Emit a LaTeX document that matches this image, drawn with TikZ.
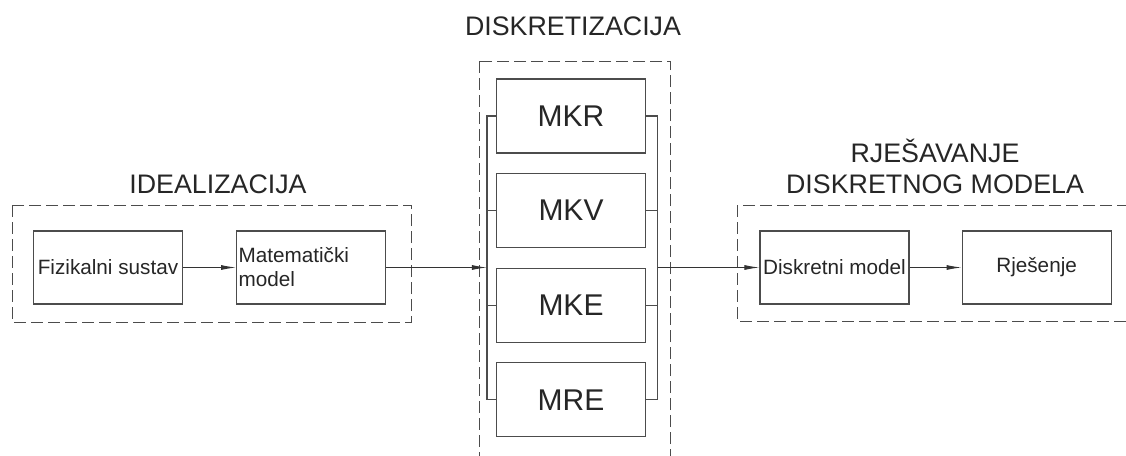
\documentclass[tikz,border=0pt]{standalone}
\usepackage{fontspec}
\setmainfont{Liberation Sans}
\usetikzlibrary{positioning,arrows.meta}

\begin{document}
\begin{tikzpicture}[
    x=1pt, y=-1pt,
    node distance=53pt,
    box_style/.style={draw=black!70, line width=1.1pt, fill=white, minimum width=149pt, minimum height=73pt, inner sep=2pt, text=black!85, font=\fontsize{20.7}{24}\selectfont},
    mk_style/.style={box_style, minimum height=74pt, font=\fontsize{30}{36}\selectfont},
    group_style/.style={draw=black!70, line width=1pt, dash pattern=on 12pt off 5pt},
    title_style/.style={text=black!85, font=\fontsize{26.8}{31}\selectfont, align=center, inner sep=0pt},
    line_style/.style={draw=black!70, line width=1.1pt},
    arrow_style/.style={draw=black!80, line width=1pt, -{Latex[length=15pt,width=5pt]}}
]
\clip (0,0) rectangle (1126,455);

% Group frames
\draw[group_style] (12,205) rectangle (411,322);
\draw[group_style] (479,61) rectangle (670,480);
\draw[group_style] (737,205) rectangle (1140,321);

% Titles
\node[title_style, anchor=base] (t_ideal) at (218,193) {IDEALIZACIJA};
\node[title_style, anchor=base] (t_diskr) at (573,35) {DISKRETIZACIJA};
\node[title_style, anchor=south] (t_rjes) at (935,194) {RJEŠAVANJE\\DISKRETNOG MODELA};

% Idealizacija
\node[box_style] (fiz) at (108,267.5) {Fizikalni sustav};
\node[box_style, right=of fiz, align=left, text width=145pt] (mat) {Matematički\\model};
\draw[arrow_style] (fiz) -- (mat);

% Diskretizacija
\node[mk_style] (mkr) at (571,116) {MKR};
\node[mk_style, below=19.5pt of mkr] (mkv) {MKV};
\node[mk_style, below=19.5pt of mkv] (mke) {MKE};
\node[mk_style, below=19.5pt of mke] (mre) {MRE};

% Left and right bus
\draw[line_style] (mkr.west) -- ++(-9,0) coordinate (bus_l) |- (mre.west);
\draw[line_style] (mkv.west) -- ++(-9,0);
\draw[line_style] (mke.west) -- ++(-9,0);
\draw[line_style] (mkr.east) -- ++(11.5,0) coordinate (bus_r) |- (mre.east);
\draw[line_style] (mkv.east) -- ++(11.5,0);
\draw[line_style] (mke.east) -- ++(11.5,0);

% Rjesavanje
\node[box_style] (disk) at (834.5,267.5) {Diskretni model};
\node[box_style, right=52pt of disk] (rjes) {Rješenje};
\coordinate (bus_out) at (disk.west -| bus_r);

% Connections
\draw[arrow_style] (mat.east) -- (mat.east -| bus_l);
\draw[arrow_style] (bus_out) -- (disk.west);
\draw[arrow_style] (disk) -- (rjes);

\end{tikzpicture}
\end{document}
